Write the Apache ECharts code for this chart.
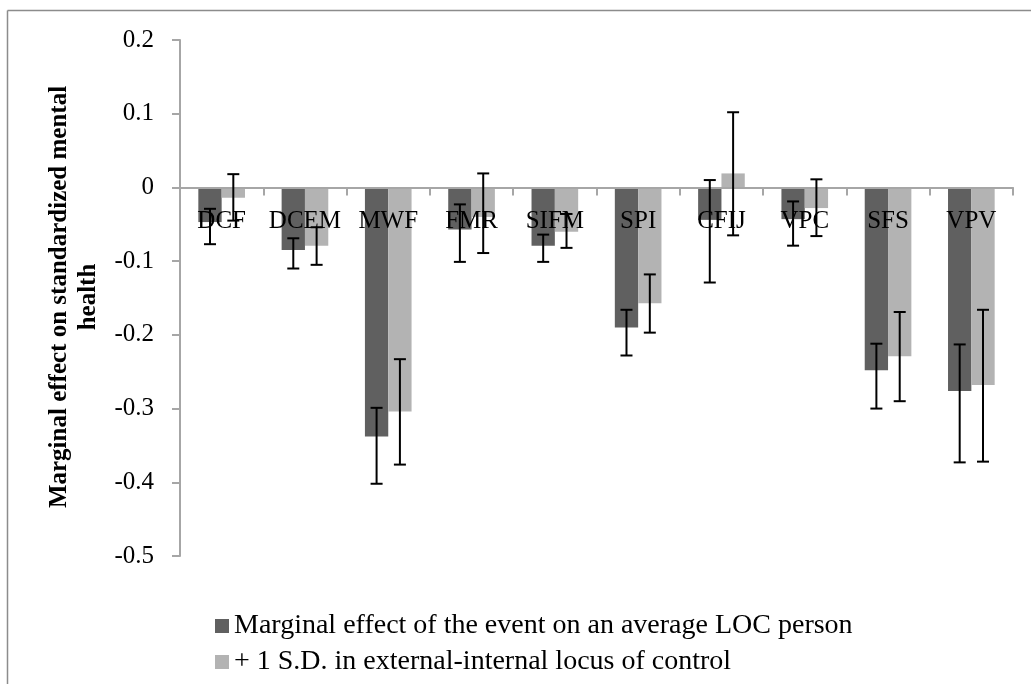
<!DOCTYPE html>
<html>
<head>
<meta charset="utf-8">
<script src="https://cdn.jsdelivr.net/npm/echarts@6/dist/echarts.min.js"></script>
<style>
  html, body { margin: 0; padding: 0; background: #fff; }
  #chart { width: 1031px; height: 684px; }
</style>
</head>
<body>
<div id="chart"></div>
<script>
const categories = ['DCF', 'DCEM', 'MWF', 'FMR', 'SIFM', 'SPI', 'CFIJ', 'VPC', 'SFS', 'VPV'];

// Marginal effect of the event on an average LOC person
const avgLoc = [-0.047, -0.085, -0.338, -0.057, -0.079, -0.19, -0.044, -0.043, -0.248, -0.276];
const avgLocLow = [-0.077, -0.11, -0.402, -0.101, -0.101, -0.228, -0.129, -0.079, -0.3, -0.373];
const avgLocHigh = [-0.029, -0.069, -0.299, -0.023, -0.064, -0.166, 0.01, -0.019, -0.212, -0.213];

// + 1 S.D. in external-internal locus of control
const plusSd = [-0.014, -0.079, -0.304, -0.04, -0.06, -0.157, 0.019, -0.028, -0.229, -0.268];
const plusSdLow = [-0.045, -0.105, -0.376, -0.089, -0.082, -0.197, -0.065, -0.066, -0.29, -0.372];
const plusSdHigh = [0.018, -0.054, -0.233, 0.019, -0.036, -0.118, 0.102, 0.011, -0.169, -0.166];

const seriesNames = [
  'Marginal effect of the event on an average LOC person',
  '+ 1 S.D. in external-internal locus of control'
];
const colors = ['#606060', '#b3b3b3'];
const font = 'Liberation Serif';
const catGap = 0.44;
const yMin = -0.5, yMax = 0.2;
const gridTop = 40, gridBottom = 128, chartH = 684;

function errorItem(side) {
  return function (params, api) {
    const x = api.value(0);
    const lo = api.coord([x, api.value(1)]);
    const hi = api.coord([x, api.value(2)]);
    const band = api.size([1, 0])[0];
    const barW = band * (1 - catGap) / 2;
    const cx = lo[0] + side * barW / 2;
    const cap = 6;
    const style = { stroke: '#000', lineWidth: 2 };
    return {
      type: 'group',
      children: [
        { type: 'line', shape: { x1: cx, y1: hi[1], x2: cx, y2: lo[1] }, style: style },
        { type: 'line', shape: { x1: cx - cap, y1: hi[1], x2: cx + cap, y2: hi[1] }, style: style },
        { type: 'line', shape: { x1: cx - cap, y1: lo[1], x2: cx + cap, y2: lo[1] }, style: style }
      ]
    };
  };
}

// move the category axis up to the zero line, labels included
const plotH = chartH - gridTop - gridBottom;
const zeroOffset = -plotH * (0 - yMin) / (yMax - yMin);

const chart = echarts.init(document.getElementById('chart'));
const option = {
  animation: false,
  backgroundColor: '#fff',
  grid: { left: 180, right: 18, top: gridTop, bottom: gridBottom },
  legend: {
    orient: 'vertical',
    left: 210,
    top: 607,
    itemWidth: 14,
    itemHeight: 14,
    itemGap: 8,
    icon: 'rect',
    textStyle: { fontFamily: font, fontSize: 28, color: '#000' },
    data: seriesNames
  },
  graphic: [
    { type: 'line', shape: { x1: 7.5, y1: 10.5, x2: 1031, y2: 10.5 }, style: { stroke: '#8c8c8c', lineWidth: 1.5 } },
    { type: 'line', shape: { x1: 7.5, y1: 10.5, x2: 7.5, y2: 684 }, style: { stroke: '#8c8c8c', lineWidth: 1.5 } },
    {
      type: 'text',
      x: 74,
      y: 297,
      rotation: Math.PI / 2,
      style: {
        text: 'Marginal effect on standardized mental\nhealth',
        fontFamily: font,
        fontWeight: 'bold',
        fontSize: 25,
        lineHeight: 29,
        fill: '#000',
        align: 'center',
        verticalAlign: 'middle'
      }
    }
  ],
  xAxis: {
    type: 'category',
    data: categories,
    z: 3,
    offset: zeroOffset,
    axisLine: { onZero: false, lineStyle: { color: '#a6a6a6', width: 2 } },
    axisTick: { show: true, length: 8, lineStyle: { color: '#a6a6a6', width: 2 } },
    axisLabel: { interval: 0, fontFamily: font, fontSize: 25, color: '#000', margin: 22 }
  },
  yAxis: {
    type: 'value',
    min: yMin,
    max: yMax,
    interval: 0.1,
    splitLine: { show: false },
    axisLine: { show: true, lineStyle: { color: '#a6a6a6', width: 2 } },
    axisTick: { show: true, length: 8, lineStyle: { color: '#a6a6a6', width: 2 } },
    axisLabel: {
      fontFamily: font,
      fontSize: 25,
      color: '#000',
      margin: 26,
      formatter: v => String(+v.toFixed(1))
    }
  },
  series: [
    {
      name: seriesNames[0],
      type: 'bar',
      data: avgLoc,
      barGap: 0,
      barCategoryGap: catGap * 100 + '%',
      itemStyle: { color: colors[0] }
    },
    {
      name: seriesNames[1],
      type: 'bar',
      data: plusSd,
      itemStyle: { color: colors[1] }
    },
    {
      type: 'custom',
      z: 5,
      renderItem: errorItem(-1),
      encode: { x: 0, y: [1, 2] },
      data: categories.map((c, i) => [i, avgLocLow[i], avgLocHigh[i]])
    },
    {
      type: 'custom',
      z: 5,
      renderItem: errorItem(1),
      encode: { x: 0, y: [1, 2] },
      data: categories.map((c, i) => [i, plusSdLow[i], plusSdHigh[i]])
    }
  ]
};
chart.setOption(option);
</script>
</body>
</html>
